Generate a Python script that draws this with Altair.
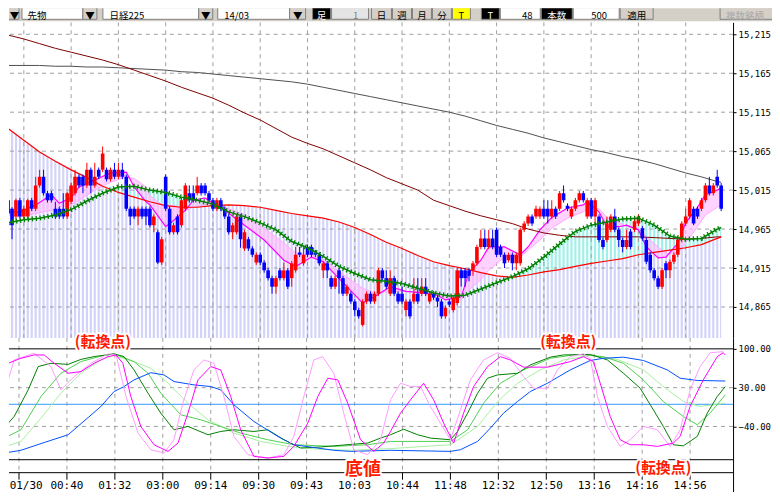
import altair as alt
import pandas as pd

# ---------------- candle data (one bar per index, 182 bars) ----------------
OPEN = [15002,14991,14981,15002,14981,14981,15002,14991,15021,15032,15011,15011,
        14991,14991,14991,14981,15000,15011,15032,15032,15021,15041,15021,15041,
        15041,15041,15029,15041,15032,15041,15032,14991,14991,14981,14991,14991,
        14991,14970,14961,14922,15032,14991,14961,14981,14970,14991,15011,15011,
        15011,15021,15021,15011,15002,14991,15002,14991,14981,14961,14961,14981,
        14940,14952,14940,14922,14932,14922,14912,14902,14891,14912,14902,14912,
        14902,14912,14935,14921,14942,14942,14935,14932,14912,14921,14902,14891,
        14912,14902,14882,14882,14872,14861,14842,14872,14882,14872,14882,14912,
        14902,14882,14902,14882,14882,14861,14872,14872,14882,14882,14891,14872,
        14882,14877,14872,14853,14872,14861,14870,14912,14912,14912,14912,14921,
        14942,14953,14942,14953,14964,14942,14932,14925,14932,14921,14921,14964,
        14972,14981,14981,14981,14991,14991,14981,14991,14991,15011,14995,14981,
        14991,15002,15011,14981,15002,14981,14981,14951,14951,14964,14981,14964,
        14951,14942,14962,14964,14972,14966,14951,14932,14912,14902,14891,14921,
        14912,14923,14932,14951,14972,14981,14991,14991,14991,15002,15021,15011,15032,15021]
HIGH = [15004,14993,15004,15005,14995,15004,15005,15032,15041,15041,15014,15014,
        15000,14994,15011,15013,15024,15041,15035,15035,15050,15044,15050,15044,
        15071,15044,15044,15050,15050,15050,15035,14994,14994,14994,14994,14994,
        14994,14984,14964,14955,15035,14994,14973,14984,15005,15024,15021,15021,
        15032,15024,15024,15014,15005,15005,15005,14994,14984,14973,14984,14984,
        14964,14955,14943,14935,14935,14925,14915,14905,14905,14915,14922,14915,
        14924,14942,14942,14942,14945,14945,14938,14935,14924,14924,14905,14905,
        14915,14905,14894,14885,14875,14864,14875,14885,14885,14885,14915,14915,
        14912,14912,14905,14885,14891,14875,14875,14902,14902,14902,14902,14885,
        14885,14880,14875,14867,14875,14880,14915,14915,14915,14915,14924,14945,
        14964,14964,14964,14964,14967,14945,14935,14935,14935,14935,14967,14975,
        14984,14984,14995,14994,15002,15002,15002,14994,15014,15021,14998,14994,
        15005,15014,15014,15005,15005,15005,14984,14954,14981,14984,14991,14967,
        14954,14964,14965,14981,14984,14969,14954,14935,14915,14905,14915,14924,
        14926,14935,14954,14975,14991,15005,14994,14994,15005,15024,15032,15024,15041,15024]
LOW = [14978,14952,14978,14979,14978,14978,14988,14988,15018,15008,14999,14999,
       14978,14978,14978,14978,14997,15008,15018,15011,15018,15011,15018,15029,
       15038,15026,15026,15029,15029,15029,14988,14970,14978,14970,14978,14970,
       14967,14961,14920,14919,14988,14958,14958,14958,14967,14988,14999,14999,
       15008,15008,15008,14999,14988,14988,14988,14978,14958,14952,14958,14941,
       14937,14937,14929,14919,14919,14909,14899,14882,14882,14899,14899,14888,
       14891,14909,14929,14918,14929,14929,14929,14918,14902,14902,14888,14888,
       14882,14879,14879,14869,14853,14850,14840,14869,14869,14869,14879,14899,
       14888,14879,14879,14869,14869,14853,14850,14869,14869,14879,14879,14869,
       14874,14865,14850,14850,14865,14858,14867,14891,14891,14898,14905,14918,
       14939,14939,14939,14939,14929,14929,14915,14922,14912,14912,14918,14961,
       14969,14969,14978,14978,14978,14972,14978,14978,14988,14999,14988,14978,
       14988,14999,14999,14978,14978,14970,14948,14939,14948,14961,14961,14942,
       14935,14939,14939,14961,14969,14950,14920,14909,14899,14888,14888,14902,
       14902,14920,14929,14948,14969,14978,14970,14978,14988,14999,15008,15008,15018,14988]
CLOSE = [14985,14970,15002,14981,14991,15002,14991,15021,15032,15011,15002,15002,
         14981,14981,14981,15011,15021,15032,15021,15021,15041,15021,15032,15032,
         15062,15029,15041,15032,15041,15032,14991,14981,14981,14991,14981,14981,
         14970,14981,14922,14952,14991,14961,14970,14961,15002,15021,15002,15002,
         15021,15011,15011,15002,14991,15002,14991,14981,14961,14970,14981,14952,
         14961,14940,14932,14932,14922,14912,14902,14891,14902,14902,14912,14891,
         14921,14932,14932,14932,14932,14932,14932,14921,14921,14912,14891,14902,
         14902,14882,14891,14872,14861,14853,14872,14882,14872,14882,14912,14902,
         14891,14902,14882,14872,14872,14872,14853,14882,14872,14891,14882,14882,
         14877,14872,14853,14864,14868,14877,14912,14902,14902,14905,14921,14942,
         14953,14942,14953,14942,14932,14932,14921,14932,14921,14932,14964,14972,
         14981,14972,14991,14991,14981,14981,14991,14981,15011,15002,14991,14991,
         15002,15011,15002,15002,14981,15002,14951,14942,14972,14981,14964,14951,
         14942,14951,14942,14975,14981,14953,14923,14912,14902,14891,14912,14912,
         14923,14932,14951,14972,14981,15002,14972,14981,15002,15021,15011,15021,15021,14991]

# ---------------- axis labels ----------------
TIME_IDX = [4, 16, 28, 40, 52, 64, 76, 88, 100, 112, 124, 136, 148, 160, 172]
TIME_LABELS = ["01/30", "00:40", "01:32", "03:00", "09:14", "09:30", "09:43", "10:03",
               "10:44", "11:48", "12:32", "12:50", "13:16", "14:16", "14:56"]
PRICE_TICKS = [15215, 15165, 15115, 15065, 15015, 14965, 14915, 14865]
OSC_TICKS = [100, 30, -40]

# ---------------- moving averages ----------------
MA_IDX = [0, 4, 8, 12, 16, 20, 24, 28, 32, 36, 40, 44, 48, 52, 56, 60, 64, 68, 72, 76, 80, 84,
          88, 92, 96, 100, 104, 108, 112, 116, 120, 124, 128, 132, 136, 140, 144, 148, 152,
          156, 160, 164, 168, 172, 176, 180, 181]
MA_GREEN = [14973,14977,14979,14983,14990,15001,15011,15019,15020,15015,15012,15006,15002,14997,
            14987,14981,14973,14964,14949,14941,14930,14917,14908,14900,14898,14895,14889,14883,
            14879,14880,14888,14896,14904,14914,14929,14946,14962,14970,14974,14978,14979,14970,
            14956,14952,14953,14965,14967]
MA_RED = [15094,15079,15064,15052,15041,15031,15020,15012,15006,15000,14995,14993,14993,14995,
          14996,14995,14993,14989,14985,14982,14979,14974,14967,14958,14948,14940,14931,14923,
          14918,14914,14909,14905,14903,14906,14910,14913,14917,14921,14924,14927,14932,14935,
          14938,14941,14945,14953,14955]
MA_MAROON = [15214,15209,15203,15197,15192,15187,15182,15176,15169,15162,15155,15147,15140,15133,
             15124,15114,15105,15094,15083,15075,15068,15059,15050,15041,15031,15023,15015,15002,
             14995,14988,14982,14977,14972,14965,14960,14957,14955,14955,14955,14955,14955,14954,
             14953,14952,14953,14955,14955]
MA_GRAY = [15175,15175,15175,15174,15174,15173,15173,15172,15171,15170,15169,15167,15166,15164,
           15162,15160,15158,15156,15154,15151,15147,15143,15139,15135,15131,15127,15123,15119,
           15115,15110,15104,15098,15093,15088,15082,15077,15072,15067,15063,15058,15054,15049,
           15043,15037,15032,15026,15025]

RIB_IDX = [0,3,7,11,13,16,18,22,26,30,32,35,36,40,42,45,47,50,52,55,60,65,70,73,77,80,82,86,90,
           93,97,101,105,109,111,115,117,120,122,126,130,132,135,138,142,146,147,150,152,155,157,
           160,162,165,167,170,172,175,177,180,181]
RIB_FAST = [14987,14987,14996,15009,14998,15005,15019,15028,15037,15038,15019,15000,14996,14968,
            14976,14989,15002,15005,14998,14989,14970,14951,14925,14917,14929,14923,14912,14891,
            14870,14878,14891,14885,14883,14880,14874,14878,14909,14925,14942,14942,14932,14942,
            14964,14980,14992,14996,15000,14987,14968,14968,14970,14964,14942,14928,14929,14947,
            14973,14993,15009,15015,15018]
RIB_SLOW = [14983,14981,14985,14989,14993,14996,15002,15015,15025,15032,15030,15019,15008,14993,
            14996,14989,14993,14996,14996,14993,14983,14966,14947,14934,14932,14925,14919,14903,
            14889,14883,14885,14885,14885,14883,14878,14874,14887,14900,14912,14929,14929,14938,
            14951,14966,14979,14987,14991,14991,14980,14974,14968,14966,14955,14942,14934,14934,
            14947,14968,14983,14993,14996]

# ---------------- oscillator lines ----------------
BLUE_I = [-0.5,4.5,10.3,16.3,21.3,24.5,27.8,30.3,32.8,37,40.3,42.8,47.8,52,54.5,57.8,62.8,68.8,
          72.8,78.8,82.8,87,97,112,114.5,118.8,122,125.3,128.8,132,136.3,142,147,150.3,155.3,
          160.3,166.3,169.5,173.8,180.8]
BLUE_V = [-89,-83,-69,-55,-24,-4,23,32,44,57,53,41,35,32,26,-1,-31,-58,-73,-79,-83,-85,-83,-85,
          -82,-67,-43,-16,5,23,38,62,79,83,85,79,62,47,43,42]
G1_I = [-0.5,2.8,6.3,8.8,12,16.3,19.5,22.8,27.8,30.3,32.8,36.3,39.5,42.8,46.3,51.3,54.5,57.8,62.8,
        66.3,70.3,74.5,79.5,82.8,87.8,91.3,94.5,97,100.3,103.8,107,112,113.8,116.3,118.8,121.3,
        123.8,128.8,132,137,140.3,147,151.3,155.3,159.5,162.8,165.3,167.8,170.3,173.8,176.3,
        178.8,180.8]
G1_V = [-49,-22,26,68,74,72,81,86,91,86,62,20,-16,-46,-40,-55,-49,-46,-49,-46,-64,-79,-77,-75,
        -72,-70,-61,-55,-45,-55,-61,-64,-49,-16,20,47,53,56,71,85,89,90,80,56,29,-10,-40,-73,
        -75,-58,-16,14,32]
G2_I = [-0.5,4.5,9.5,14.5,19.5,24.5,27.8,32.8,36.3,39.5,44.5,49.5,54.5,59.5,66.3,72.8,82.8,91.3,
        97,112,116.3,120.3,124.5,130.3,137,143.8,150.3,155.3,160.3,165.3,170.3,173.8,177,180.8]
G2_V = [-64,-46,14,56,77,87,91,77,56,20,-19,-28,-40,-52,-64,-73,-76,-73,-67,-67,-46,2,38,62,83,
        90,86,74,44,5,-22,-37,-16,17]
G3_I = [-0.5,4.5,9.5,14.5,19.5,24.5,27.8,32.8,37,41.3,46.3,51.3,57.8,64.5,71.3,78.8,87,97,112,
        118.8,123.8,128.8,134.5,140.3,147,153.8,160.3,165.3,170.3,174.5,180.8]
G3_V = [-79,-67,-25,20,56,80,88,77,65,38,2,-28,-52,-67,-76,-81,-83,-80,-73,-40,5,38,62,80,88,81,
        62,32,5,-4,2]
M1_I = [-0.5,1.3,4.5,7.8,10.3,12.8,16.3,19.5,22.8,26.3,28.3,30,32,34.5,37.8,41.3,43.8,46.3,48.8,
        52,54.5,57,59.5,62.8,66.3,70.3,72.8,76.3,78.8,81.3,83.8,86.3,89.5,92.8,95.3,97,99.5,102,
        105.3,107.8,110.3,112.8,115.3,117.8,121.3,124.5,127,130.3,136.3,142,145.3,147.8,149.5,
        152,154.5,157,160.3,163.8,167.8,169.5,172,175.3,178.8,180.3,180.8]
M1_V = [50,74,83,89,89,74,56,59,74,86,89,74,14,-40,-73,-85,-70,-16,44,68,62,14,-46,-94,-97,-94,
        -76,-34,14,47,44,2,-64,-85,-70,-49,-16,8,38,8,-34,-70,-16,32,68,86,80,67,67,77,86,77,38,
        -22,-64,-73,-73,-76,-70,-58,-4,44,86,93,89]
M2_I = [-0.5,0.3,2.8,7.8,12,14.5,17.8,22,26.3,28.3,30.8,33.8,37,40.3,42.8,45,47.8,50.3,52.8,55.3,
        57.8,61.3,66.3,70.3,72.8,75.3,77.8,80,82.8,85.3,87.8,91.3,94.5,97,99.5,102,104.5,107,
        109.5,112,114.5,117,120.3,123.8,127,130.3,132.8,136.3,138.8,142,145.3,147,148.8,151.3,
        154.5,157,160.3,163.8,167,169.5,172,174.5,177,180.3]
M2_V = [38,20,80,92,68,26,50,74,91,89,14,-52,-82,-88,-64,2,62,80,74,14,-58,-91,-97,-91,-58,14,80,
        86,56,-16,-82,-91,-64,8,38,32,32,-4,-34,-64,-10,44,80,93,83,50,29,29,62,86,91,83,14,-40,
        -76,-64,-40,-46,-76,-46,26,68,93,95]

# ---------------- annotations ----------------
ANN_TEXT = ["(転換点)", "(転換点)", "(転換点)", "底値"]
ANN_I = [25, 141.5, 165.3, 90.1]
ANN_V = [113.2, 113.2, -114.4, -118]
ANN_SIZE = [15, 15, 15, 18]

# ---------------- toolbar ----------------
TB_X0 = [0, 21, 82, 102, 198, 217, 289, 312, 331, 371, 392, 412, 432, 452, 481, 500, 541, 573, 620, 720]
TB_X1 = [18, 82, 96, 198, 212, 289, 305, 330, 368, 391, 411, 431, 451, 470, 499, 540, 572, 619, 653, 779]
TB_FILL = ["#d4d0c8", "#ffffff", "#d4d0c8", "#ffffff", "#d4d0c8", "#ffffff", "#d4d0c8", "#000000",
           "#e4e4e4", "#d4d0c8", "#d4d0c8", "#d4d0c8", "#d4d0c8", "#ffff00", "#000000", "#ffffff",
           "#000000", "#ffffff", "#d4d0c8", "#d4d0c8"]
TB_TEXT = ["▼", "先物", "▼", "日経225", "▼", "14/03", "▼", "足", "1", "日", "週", "月", "分", "T",
           "T", "48", "本数", "500", "適用", "複数銘柄"]
TB_TX = [13.5, 36, 89, 126, 205, 236, 297, 321, 355, 381, 401.5, 421.5, 441.5, 461, 490, 527, 556.5,
         599, 636.5, 745]
TB_TCOL = ["#000000", "#000000", "#000000", "#000000", "#000000", "#000000", "#000000", "#ffffff",
           "#808080", "#000000", "#000000", "#000000", "#000000", "#000000", "#ffffff", "#000000",
           "#ffffff", "#000000", "#000000", "#a8a8a8"]

# ---------------- styling ----------------
LAV = "#d2d2fa"
CYAN = "#9ef0e8"
GRID = "#a0a0a0"
MONO = "DejaVu Sans Mono"
JP = "Noto Sans CJK JP"
W = 725
X_DOM = [1.5, 182.75]
Y_DOM = [14825.3, 15230.4]
O_DOM = [-157.7, 119.8]

MAIN_AXIS = alt.Axis(orient="right", values=PRICE_TICKS, labelExpr="format(datum.value, ',d')",
                     title=None, grid=False, domainColor="black", tickColor="black", tickSize=3,
                     labelFont=MONO, labelFontSize=9, labelColor="black", labelPadding=2)
OSC_AXIS = alt.Axis(orient="right", values=OSC_TICKS, labelExpr="format(datum.value, '.2f')",
                    title=None, grid=False, domainColor="black", tickColor="black", tickSize=3,
                    labelFont=MONO, labelFontSize=9, labelColor="black", labelPadding=2)


def xq(field):
    return alt.X(f"{field}:Q", scale=alt.Scale(domain=X_DOM, nice=False, zero=False), axis=None)


def yp(field):
    return alt.Y(f"{field}:Q", scale=alt.Scale(domain=Y_DOM, nice=False, zero=False), axis=MAIN_AXIS)


def yo(field):
    return alt.Y(f"{field}:Q", scale=alt.Scale(domain=O_DOM, nice=False, zero=False), axis=OSC_AXIS)


# ================= toolbar panel =================
tb_df = pd.DataFrame({"x0": TB_X0, "x1": TB_X1, "fill": TB_FILL, "t": TB_TEXT, "tx": TB_TX,
                      "tc": TB_TCOL, "y0": [2] * len(TB_X0), "y1": [19] * len(TB_X0),
                      "ty": [15.2] * len(TB_X0)})
tbx = alt.Scale(domain=[8, 772], nice=False, zero=False)
tby = alt.Scale(domain=[22, 8], nice=False, zero=False)
tb_bg = alt.Chart(pd.DataFrame({"x0": [0], "x1": [780], "y0": [0], "y1": [21]})).mark_rect(
    color="#d4d0c8", clip=True).encode(
    x=alt.X("x0:Q", scale=tbx, axis=None), x2="x1",
    y=alt.Y("y0:Q", scale=tby, axis=None), y2="y1")
tb_box = alt.Chart(tb_df).mark_rect(stroke="#808080", strokeWidth=1, clip=True).encode(
    x=alt.X("x0:Q", scale=tbx, axis=None), x2="x1",
    y=alt.Y("y0:Q", scale=tby, axis=None), y2="y1",
    fill=alt.Color("fill:N", scale=None))
tb_txt = alt.Chart(tb_df).mark_text(font=JP, fontSize=9.5, baseline="middle", align="center",
                                    clip=True).encode(
    x=alt.X("tx:Q", scale=tbx, axis=None), y=alt.Y("ty:Q", scale=tby, axis=None),
    text="t:N", color=alt.Color("tc:N", scale=None))
toolbar = alt.layer(tb_bg, tb_box, tb_txt).properties(width=764, height=14)

# ================= main price panel =================
candles = pd.DataFrame({"i": list(range(len(OPEN))), "o": OPEN, "h": HIGH, "l": LOW, "c": CLOSE})
ma_df = pd.DataFrame({"i": MA_IDX, "green": MA_GREEN, "red": MA_RED, "maroon": MA_MAROON,
                      "gray": MA_GRAY})
rib_df = pd.DataFrame({"i": RIB_IDX, "fast": RIB_FAST, "slow": RIB_SLOW})

base_c = alt.Chart(candles).transform_calculate(
    col="datum.c >= datum.o ? '#ff0000' : '#0000ff'", xs="datum.i + 0.5",
    top=str(Y_DOM[1]), bot=str(Y_DOM[0]))
base_ma = alt.Chart(ma_df)

lav = base_ma.transform_calculate(bot=str(Y_DOM[0])).mark_area(color=LAV, clip=True).encode(
    x=xq("i"), y=yp("red"), y2=alt.Y2("bot"))
cyan = base_ma.transform_calculate(top="max(datum.green, datum.red)").mark_area(
    color=CYAN, clip=True).encode(x=xq("i"), y=yp("top"), y2=alt.Y2("red"))
stripes = base_c.mark_rule(color="white", strokeWidth=1.8, clip=True).encode(
    x=xq("xs"), y=yp("top"), y2=alt.Y2("bot"))
vgrid = alt.Chart(pd.DataFrame({"t": TIME_IDX})).transform_calculate(
    top=str(Y_DOM[1]), bot=str(Y_DOM[0])).mark_rule(
    color=GRID, strokeDash=[4, 4], clip=True).encode(x=xq("t"), y=yp("top"), y2=alt.Y2("bot"))
hgrid = alt.Chart(pd.DataFrame({"p": PRICE_TICKS})).mark_rule(
    color=GRID, strokeDash=[4, 4]).encode(y=yp("p"))

rib_area = alt.Chart(rib_df).mark_area(color="#ffbaff", opacity=0.65, clip=True).encode(
    x=xq("i"), y=yp("fast"), y2=alt.Y2("slow"))
rib_slow = alt.Chart(rib_df).mark_line(color="#ffaaff", strokeWidth=1, clip=True).encode(
    x=xq("i"), y=yp("slow"))
rib_fast = alt.Chart(rib_df).mark_line(color="#ff00ff", strokeWidth=1.2, clip=True).encode(
    x=xq("i"), y=yp("fast"))

gray_l = base_ma.mark_line(color="#505050", strokeWidth=1, clip=True).encode(x=xq("i"), y=yp("gray"))
maroon_l = base_ma.mark_line(color="#800000", strokeWidth=1, clip=True).encode(x=xq("i"), y=yp("maroon"))
red_l = base_ma.mark_line(color="#ff0000", strokeWidth=1.2, clip=True).encode(x=xq("i"), y=yp("red"))

wicks = base_c.mark_rule(strokeWidth=1, clip=True).encode(
    x=xq("i"), y=yp("l"), y2=alt.Y2("h"), color=alt.Color("col:N", scale=None))
bodies = base_c.mark_bar(size=3.6, clip=True).encode(
    x=xq("i"), y=yp("o"), y2=alt.Y2("c"), color=alt.Color("col:N", scale=None))

green_l = base_ma.mark_line(color="#008000", strokeWidth=1.5, clip=True).encode(x=xq("i"), y=yp("green"))
green_d = base_ma.mark_line(color="#008000", strokeWidth=5, strokeDash=[1.3, 2.7], clip=True).encode(
    x=xq("i"), y=yp("green"))

main = alt.layer(lav, cyan, stripes, vgrid, hgrid, rib_area, rib_slow, rib_fast, gray_l, maroon_l,
                 red_l, wicks, bodies, green_l, green_d).properties(width=W, height=316)

# ================= oscillator panel =================
AX_V = -123.4   # x-axis line level
TICK_END = -136.0
LABEL_V = -146.8
FIRST_LABEL_MIN = 5.8   # keep the first time label inside the visible area

t_df = pd.DataFrame({"t": TIME_IDX, "lab": TIME_LABELS})
o_vgrid = alt.Chart(t_df).transform_calculate(a=str(O_DOM[1]), b=str(AX_V)).mark_rule(
    color=GRID, strokeDash=[4, 4], clip=True).encode(x=xq("t"), y=yo("a"), y2=alt.Y2("b"))
o_hgrid = alt.Chart(pd.DataFrame({"v": [30, -40]})).mark_rule(
    color=GRID, strokeDash=[4, 4]).encode(y=yo("v"))
o_zero = alt.Chart(pd.DataFrame({"v": [0]})).mark_rule(color="#3399ff", strokeWidth=1).encode(y=yo("v"))
o_black = alt.Chart(pd.DataFrame({"v": [100, -100, AX_V]})).mark_rule(
    color="black", strokeWidth=1).encode(y=yo("v"))
o_ticks = alt.Chart(t_df).transform_calculate(a=str(AX_V), b=str(TICK_END)).mark_rule(
    color="black", clip=True).encode(x=xq("t"), y=yo("a"), y2=alt.Y2("b"))
o_labels = alt.Chart(t_df).transform_calculate(
    ly=str(LABEL_V), lx=f"max(datum.t, {FIRST_LABEL_MIN})").mark_text(
    font=MONO, fontSize=11, color="black", baseline="middle", align="center", clip=True).encode(
    x=xq("lx"), y=yo("ly"), text="lab:N")


def osc_line(idx, vals, color, width=1.0):
    df = pd.DataFrame({"i": idx, "v": vals})
    return alt.Chart(df).mark_line(color=color, strokeWidth=width, clip=True).encode(
        x=xq("i"), y=yo("v"))


l_g3 = osc_line(G3_I, G3_V, "#a8f0a0")
l_g2 = osc_line(G2_I, G2_V, "#50d050")
l_g1 = osc_line(G1_I, G1_V, "#008000")
l_bl = osc_line(BLUE_I, BLUE_V, "#0050ff")
l_m2 = osc_line(M2_I, M2_V, "#ff9cff")
l_m1 = osc_line(M1_I, M1_V, "#ff00ff")

ann_df = pd.DataFrame({"i": ANN_I, "v": ANN_V, "t": ANN_TEXT, "sz": ANN_SIZE})
ann_halo = alt.Chart(ann_df).mark_text(font=JP, fontWeight="bold", baseline="middle",
                                       align="center", color="white", stroke="white",
                                       strokeWidth=4, strokeJoin="round").encode(
    x=xq("i"), y=yo("v"), text="t:N", size=alt.Size("sz:Q", scale=None))
ann_txt = alt.Chart(ann_df).mark_text(font=JP, fontWeight="bold", baseline="middle",
                                      align="center", color="#ff1a00").encode(
    x=xq("i"), y=yo("v"), text="t:N", size=alt.Size("sz:Q", scale=None))

osc = alt.layer(o_vgrid, o_hgrid, o_zero, o_black, o_ticks, o_labels, l_g3, l_g2, l_g1, l_bl,
                l_m2, l_m1, ann_halo, ann_txt).properties(width=W, height=154)

chart = alt.vconcat(toolbar, main, osc, spacing=0, bounds="flush").properties(
    padding=0, background="white").configure_view(stroke=None)

chart.save("out.html", embed_options={"renderer": "svg", "actions": False})
